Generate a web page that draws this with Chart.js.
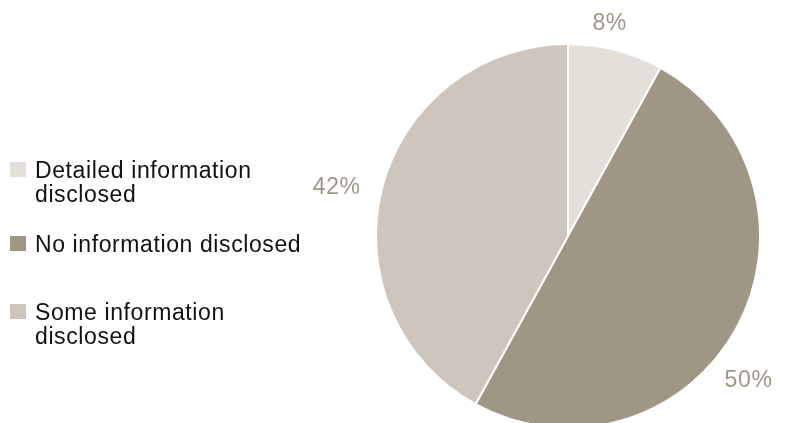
<!DOCTYPE html>
<html lang="en">
<head>
    <meta charset="UTF-8">
    <title>Disclosure pie</title>
    <style>
        body {
            margin: 0;
            padding: 0;
            background: #fff;
            overflow: hidden;
            font-family: "Liberation Sans", Arial, sans-serif;
        }

        .wrap {
            position: relative;
            width: 787px;
            height: 423px;
            overflow: hidden;
        }

        .chart-box {
            position: absolute;
            left: 0;
            top: 0;
            width: 787px;
            height: 440px;
        }

        #legend {
            position: absolute;
            left: 10px;
            top: 0;
        }

        #legend .item {
            position: absolute;
            left: 0;
            width: 300px;
            font-size: 23px;
            letter-spacing: 0.6px;
            line-height: 24px;
            color: #111;
            padding-left: 25px;
            white-space: nowrap;
        }

        #legend .swatch {
            position: absolute;
            left: 0;
            top: 4px;
            width: 16px;
            height: 15px;
        }
    </style>
</head>
<body>
    <div class="wrap">
        <div class="chart-box">
            <canvas id="pie"></canvas>
        </div>
        <div id="legend"></div>
    </div>
    <script src="https://cdn.jsdelivr.net/npm/chart.js"></script>
    <script>
        const categories = [
            ['Detailed information', 'disclosed'],
            ['No information disclosed'],
            ['Some information', 'disclosed']
        ];
        const shares = [8, 50, 42];
        const sliceColors = ['#e4dfd9', '#a09686', '#cec5bc'];

        // legend rows sit at fixed heights on the left
        const legendTops = [158, 232, 300];
        const legend = document.getElementById('legend');
        categories.forEach((lines, i) => {
            const item = document.createElement('div');
            item.className = 'item';
            item.style.top = legendTops[i] + 'px';
            const sw = document.createElement('span');
            sw.className = 'swatch';
            sw.style.background = sliceColors[i];
            item.appendChild(sw);
            item.appendChild(document.createTextNode(lines[0]));
            for (let k = 1; k < lines.length; k++) {
                item.appendChild(document.createElement('br'));
                item.appendChild(document.createTextNode(lines[k]));
            }
            legend.appendChild(item);
        });

        // percentage labels outside each slice
        const outsideLabels = {
            id: 'outsideLabels',
            afterDatasetsDraw(chart, args, opts) {
                const ctx = chart.ctx;
                const meta = chart.getDatasetMeta(0);
                ctx.save();
                ctx.font = opts.font;
                ctx.letterSpacing = '0.6px';
                ctx.fillStyle = opts.color;
                ctx.textAlign = 'center';
                ctx.textBaseline = 'middle';
                meta.data.forEach((arc, i) => {
                    const p = arc.getProps(['x', 'y', 'startAngle', 'endAngle', 'outerRadius'], true);
                    const mid = (p.startAngle + p.endAngle) / 2 + (opts.angleShift[i] || 0) * Math.PI / 180;
                    const text = shares[i] + '%';
                    const half = ctx.measureText(text).width / 2;
                    const r = p.outerRadius + opts.gap + half * Math.abs(Math.cos(mid));
                    ctx.fillText(text, p.x + Math.cos(mid) * r, p.y + Math.sin(mid) * r);
                });
                ctx.restore();
            }
        };

        new Chart(document.getElementById('pie'), {
            type: 'pie',
            data: {
                labels: categories.map(l => l.join(' ')),
                datasets: [{
                    data: shares,
                    backgroundColor: sliceColors,
                    borderColor: '#ffffff',
                    borderWidth: 2
                }]
            },
            options: {
                responsive: true,
                maintainAspectRatio: false,
                animation: false,
                layout: {
                    padding: { left: 375, right: 26, top: 43, bottom: 11 }
                },
                plugins: {
                    legend: { display: false },
                    tooltip: { enabled: false },
                    outsideLabels: {
                        font: '23px "Liberation Sans", Arial, sans-serif',
                        color: '#a09686',
                        gap: 21,
                        angleShift: [-3.3, 10, -2.5]
                    }
                }
            },
            plugins: [outsideLabels]
        });
    </script>
</body>
</html>
